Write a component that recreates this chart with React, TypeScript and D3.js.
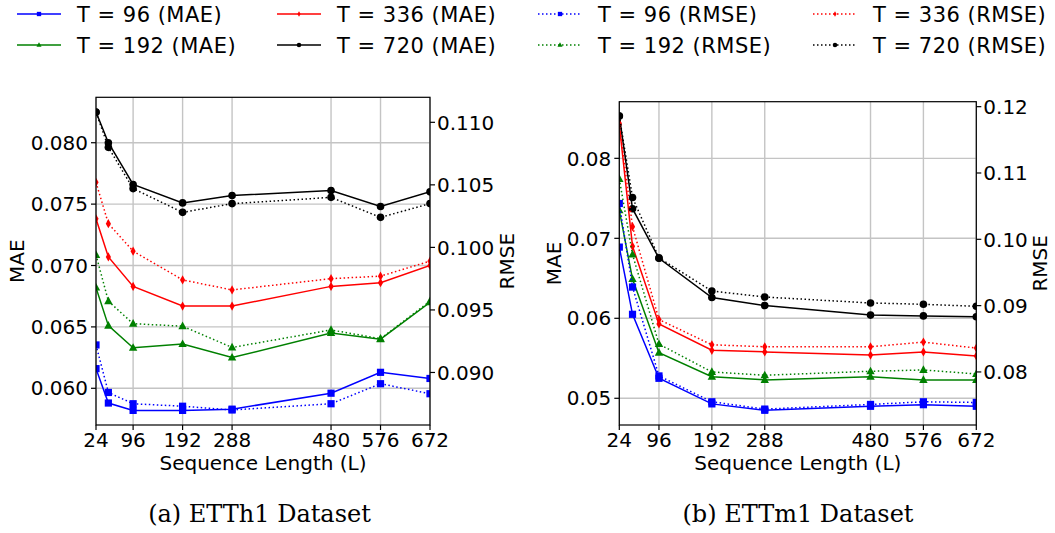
import React from "react";
import * as d3 from "d3";

// ---------- data ----------
const seqLens = [24, 48, 96, 192, 288, 480, 576, 672];
const xTickValues = [24, 96, 192, 288, 480, 576, 672];
const horizons = ["96", "192", "336", "720"];
const seriesColors = ["#0000ff", "#008000", "#ff0000", "#000000"];
const seriesMarkers = ["square", "triangle", "thin_diamond", "circle"];

// ETTh1
const h1Mae96 = [0.0616, 0.0588, 0.0582, 0.0582, 0.0583, 0.0596, 0.0613, 0.0608];
const h1Mae192 = [0.0682, 0.0651, 0.0633, 0.0636, 0.0625, 0.0645, 0.064, 0.067];
const h1Mae336 = [0.0738, 0.0707, 0.0683, 0.0667, 0.0667, 0.0683, 0.0686, 0.07];
const h1Mae720 = [0.0825, 0.08, 0.0766, 0.0751, 0.0757, 0.0761, 0.0748, 0.076];
const h1Rmse96 = [0.0922, 0.0884, 0.0875, 0.0873, 0.087, 0.0875, 0.0891, 0.0883];
const h1Rmse192 = [0.0994, 0.0957, 0.0939, 0.0937, 0.092, 0.0934, 0.0927, 0.0957];
const h1Rmse336 = [0.1052, 0.1019, 0.0997, 0.0974, 0.0966, 0.0975, 0.0977, 0.0989];
const h1Rmse720 = [0.1108, 0.108, 0.1047, 0.1028, 0.1035, 0.104, 0.1024, 0.1035];
const h1MaeTicks = [0.06, 0.065, 0.07, 0.075, 0.08];
const h1RmseTicks = [0.09, 0.095, 0.1, 0.105, 0.11];

// ETTm1
const m1Mae96 = [0.0689, 0.0605, 0.0525, 0.0493, 0.0485, 0.049, 0.0492, 0.049];
const m1Mae192 = [0.0735, 0.0649, 0.0557, 0.0527, 0.0523, 0.0527, 0.0523, 0.0523];
const m1Mae336 = [0.0842, 0.069, 0.0593, 0.056, 0.0558, 0.0554, 0.0558, 0.0553];
const m1Mae720 = [0.0853, 0.0737, 0.0675, 0.0626, 0.0616, 0.0604, 0.0603, 0.0602];
const m1Rmse96 = [0.1054, 0.0928, 0.0794, 0.0755, 0.0744, 0.0751, 0.0755, 0.0754];
const m1Rmse192 = [0.1091, 0.0977, 0.0842, 0.08, 0.0795, 0.0801, 0.0803, 0.0797];
const m1Rmse336 = [0.1175, 0.1019, 0.0879, 0.0841, 0.0838, 0.0838, 0.0845, 0.0836];
const m1Rmse720 = [0.1186, 0.1063, 0.0972, 0.0922, 0.0913, 0.0904, 0.0902, 0.0899];
const m1MaeTicks = [0.05, 0.06, 0.07, 0.08];
const m1RmseTicks = [0.08, 0.09, 0.1, 0.11, 0.12];

const FONT = "'DejaVu Sans', sans-serif";

function Marker({ shape, x, y, color, s = 1 }: { shape: string; x: number; y: number; color: string; s?: number }) {
  if (shape === "square")
    return <rect x={x - 3.6 * s} y={y - 3.6 * s} width={7.2 * s} height={7.2 * s} fill={color} />;
  if (shape === "circle") return <circle cx={x} cy={y} r={3.8 * s} fill={color} />;
  if (shape === "triangle")
    return <path d={`M${x},${y - 4.6 * s}L${x + 4.2 * s},${y + 3 * s}L${x - 4.2 * s},${y + 3 * s}Z`} fill={color} />;
  return <path d={`M${x},${y - 4.6 * s}L${x + 2.6 * s},${y}L${x},${y + 4.6 * s}L${x - 2.6 * s},${y}Z`} fill={color} />;
}

type PanelProps = {
  id: string;
  left: number;
  right: number;
  top: number;
  bottom: number;
  maeDomain: [number, number];
  rmseDomain: [number, number];
  maeTicks: number[];
  rmseTicks: number[];
  maeFmt: string;
  rmseFmt: string;
  mae: number[][];
  rmse: number[][];
  maeLabelX: number;
  rmseLabelX: number;
  caption: string;
  captionX: number;
};

function Panel(p: PanelProps) {
  const x = d3.scaleLinear().domain([24, 672]).range([p.left, p.right]);
  const yL = d3.scaleLinear().domain(p.maeDomain).range([p.bottom, p.top]);
  const yR = d3.scaleLinear().domain(p.rmseDomain).range([p.bottom, p.top]);
  const fL = d3.format(p.maeFmt);
  const fR = d3.format(p.rmseFmt);
  const cx = (p.left + p.right) / 2;
  const cy = (p.top + p.bottom) / 2;
  const clipId = `clip-${p.id}`;

  const renderSeries = (vals: number[][], y: d3.ScaleLinear<number, number>, dotted: boolean) =>
    vals.map((arr, i) => {
      const line = d3
        .line<number>()
        .x((_, j) => x(seqLens[j]))
        .y((v) => y(v));
      return (
        <g key={`${dotted ? "r" : "m"}${i}`}>
          <path
            d={line(arr) || ""}
            fill="none"
            stroke={seriesColors[i]}
            strokeWidth={1.5}
            strokeDasharray={dotted ? "1.5,2.5" : undefined}
          />
          {arr.map((v, j) => (
            <Marker key={j} shape={seriesMarkers[i]} x={x(seqLens[j])} y={y(v)} color={seriesColors[i]} />
          ))}
        </g>
      );
    });

  return (
    <g>
      <defs>
        <clipPath id={clipId}>
          <rect x={p.left} y={p.top} width={p.right - p.left} height={p.bottom - p.top} />
        </clipPath>
      </defs>
      {/* grid */}
      {xTickValues.map((t) => (
        <line key={`gx${t}`} x1={x(t)} x2={x(t)} y1={p.top} y2={p.bottom} stroke="#c4c4c4" strokeWidth={1.4} />
      ))}
      {p.maeTicks.map((t) => (
        <line key={`gy${t}`} x1={p.left} x2={p.right} y1={yL(t)} y2={yL(t)} stroke="#c4c4c4" strokeWidth={1.4} />
      ))}
      <g clipPath={`url(#${clipId})`}>
        {renderSeries(p.mae, yL, false)}
        {renderSeries(p.rmse, yR, true)}
      </g>
      {/* frame */}
      <rect x={p.left} y={p.top} width={p.right - p.left} height={p.bottom - p.top} fill="none" stroke="#000" strokeWidth={1.2} />
      {/* x ticks */}
      {xTickValues.map((t) => (
        <g key={`xt${t}`}>
          <line x1={x(t)} x2={x(t)} y1={p.bottom} y2={p.bottom + 5} stroke="#000" strokeWidth={1.2} />
          <text x={x(t)} y={p.bottom + 22} textAnchor="middle" fontFamily={FONT} fontSize={20}>
            {t}
          </text>
        </g>
      ))}
      {/* left ticks */}
      {p.maeTicks.map((t) => (
        <g key={`lt${t}`}>
          <line x1={p.left - 5} x2={p.left} y1={yL(t)} y2={yL(t)} stroke="#000" strokeWidth={1.2} />
          <text x={p.left - 8} y={yL(t)} dy="0.36em" textAnchor="end" fontFamily={FONT} fontSize={20}>
            {fL(t)}
          </text>
        </g>
      ))}
      {/* right ticks */}
      {p.rmseTicks.map((t) => (
        <g key={`rt${t}`}>
          <line x1={p.right} x2={p.right + 5} y1={yR(t)} y2={yR(t)} stroke="#000" strokeWidth={1.2} />
          <text x={p.right + 7} y={yR(t)} dy="0.36em" textAnchor="start" fontFamily={FONT} fontSize={20}>
            {fR(t)}
          </text>
        </g>
      ))}
      <text x={cx} y={p.bottom + 45} textAnchor="middle" fontFamily={FONT} fontSize={20}>
        Sequence Length (L)
      </text>
      <text
        transform={`translate(${p.maeLabelX},${cy}) rotate(-90)`}
        textAnchor="middle"
        dy="0.36em"
        fontFamily={FONT}
        fontSize={20}
      >
        MAE
      </text>
      <text
        transform={`translate(${p.rmseLabelX},${cy}) rotate(-90)`}
        textAnchor="middle"
        dy="0.36em"
        fontFamily={FONT}
        fontSize={20}
      >
        RMSE
      </text>
      <text x={p.captionX} y={522} textAnchor="middle" fontFamily="'DejaVu Serif', serif" fontSize={24}>
        {p.caption}
      </text>
    </g>
  );
}

function Legend() {
  const colX = [17, 277, 538, 813];
  const rowY = [14, 45];
  const entries: { label: string; idx: number; dotted: boolean }[] = [];
  [false, true].forEach((dotted) =>
    horizons.forEach((h, i) => entries.push({ label: `T = ${h} (${dotted ? "RMSE" : "MAE"})`, idx: i, dotted }))
  );
  return (
    <g>
      {entries.map((e, k) => {
        const col = Math.floor(k / 2);
        const row = k % 2;
        const x0 = colX[col];
        const y0 = rowY[row];
        return (
          <g key={k}>
            <line
              x1={x0}
              x2={x0 + 44}
              y1={y0}
              y2={y0}
              stroke={seriesColors[e.idx]}
              strokeWidth={1.5}
              strokeDasharray={e.dotted ? "1.5,2.5" : undefined}
            />
            <Marker shape={seriesMarkers[e.idx]} x={x0 + 22} y={y0} color={seriesColors[e.idx]} s={0.6} />
            <text x={x0 + 60} y={y0} dy="0.36em" fontFamily={FONT} fontSize={21} letterSpacing={0.5}>
              {e.label}
            </text>
          </g>
        );
      })}
    </g>
  );
}

export default function App() {
  return (
    <div style={{ position: "absolute", left: 0, top: 0 }}>
      <svg width={1055} height={533} style={{ display: "block", background: "#fff" }}>
        <Legend />
        <Panel
          id="a"
          left={96}
          right={430}
          top={97.3}
          bottom={425}
          maeDomain={[0.05701, 0.0837]}
          rmseDomain={[0.0858, 0.112]}
          maeTicks={h1MaeTicks}
          rmseTicks={h1RmseTicks}
          maeFmt=".3f"
          rmseFmt=".3f"
          mae={[h1Mae96, h1Mae192, h1Mae336, h1Mae720]}
          rmse={[h1Rmse96, h1Rmse192, h1Rmse336, h1Rmse720]}
          maeLabelX={17}
          rmseLabelX={507}
          caption="(a) ETTh1 Dataset"
          captionX={259.5}
        />
        <Panel
          id="b"
          left={619.3}
          right={976.3}
          top={101.7}
          bottom={425}
          maeDomain={[0.04666, 0.08708]}
          rmseDomain={[0.072, 0.12075]}
          maeTicks={m1MaeTicks}
          rmseTicks={m1RmseTicks}
          maeFmt=".2f"
          rmseFmt=".2f"
          mae={[m1Mae96, m1Mae192, m1Mae336, m1Mae720]}
          rmse={[m1Rmse96, m1Rmse192, m1Rmse336, m1Rmse720]}
          maeLabelX={554}
          rmseLabelX={1040}
          caption="(b) ETTm1 Dataset"
          captionX={798}
        />
      </svg>
    </div>
  );
}
